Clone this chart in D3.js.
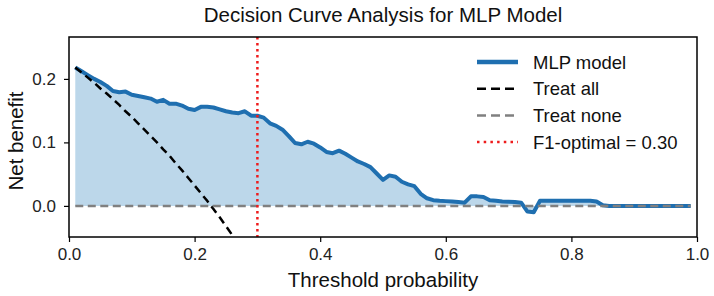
<!DOCTYPE html>
<html>
<head>
<meta charset="utf-8">
<script src="https://cdn.jsdelivr.net/npm/d3@7"></script>
<style>
  body { margin: 0; background: #fff; }
  svg { font-family: "Liberation Sans", Arial, sans-serif; }
  .tick text { font-size: 17px; fill: #222; }
</style>
</head>
<body>
<svg id="chart" width="714" height="296"></svg>
<script>
// thresholds 0.01 .. 0.99
const thresholds = d3.range(1, 100).map(i => i / 100);

// MLP model net benefit, one value per threshold
const mlpNetBenefit = [
  0.218, 0.212, 0.206, 0.200, 0.195, 0.189, 0.181, 0.179, 0.180, 0.175,
  0.173, 0.171, 0.169, 0.164, 0.167, 0.161, 0.161, 0.158, 0.153, 0.151,
  0.156, 0.156, 0.155, 0.152, 0.149, 0.147, 0.146, 0.149, 0.142, 0.142,
  0.139, 0.130, 0.126, 0.120, 0.110, 0.099, 0.097, 0.101, 0.098, 0.092,
  0.085, 0.083, 0.087, 0.082, 0.076, 0.070, 0.066, 0.061, 0.051, 0.041,
  0.048, 0.046, 0.038, 0.034, 0.031, 0.019, 0.012, 0.009, 0.008, 0.0075,
  0.007, 0.006, 0.005, 0.015, 0.015, 0.014, 0.009, 0.008, 0.007, 0.0065,
  0.006, 0.005, -0.009, -0.010, 0.008, 0.008, 0.008, 0.008, 0.008, 0.008,
  0.008, 0.008, 0.008, 0.007, 0.001, 0, 0, 0, 0, 0,
  0, 0, 0, 0, 0, 0, 0, 0, 0
];

// Treat all (leaves the plot below ~0.26)
const treatAllX = [0.01, 0.02, 0.03, 0.04, 0.05, 0.06, 0.07, 0.08, 0.09, 0.10,
  0.11, 0.12, 0.13, 0.14, 0.15, 0.16, 0.17, 0.18, 0.19, 0.20,
  0.21, 0.22, 0.23, 0.24, 0.25, 0.26, 0.27];
const treatAllY = [0.218, 0.210, 0.202, 0.194, 0.185, 0.177, 0.168, 0.159, 0.149, 0.140,
  0.130, 0.120, 0.110, 0.100, 0.089, 0.079, 0.067, 0.056, 0.044, 0.032,
  0.020, 0.008, -0.005, -0.018, -0.032, -0.046, -0.060];

const treatNoneX = [0.01, 0.99];
const treatNoneY = [0, 0];

const f1Optimal = 0.30;

const xTicks = [0, 0.2, 0.4, 0.6, 0.8, 1.0];
const yTicks = [0, 0.1, 0.2];

const legendLabels = ["MLP model", "Treat all", "Treat none", "F1-optimal = 0.30"];

const margin = {left: 69, right: 17, top: 37, bottom: 59};
const W = 714, H = 296;

const svg = d3.select("#chart");
const xScale = d3.scaleLinear().domain([0, 1]).range([margin.left, W - margin.right]);
const yScale = d3.scaleLinear().domain([-0.049, 0.266]).range([H - margin.bottom, margin.top]);

svg.append("clipPath").attr("id", "clip")
  .append("rect")
  .attr("x", margin.left).attr("y", margin.top)
  .attr("width", W - margin.left - margin.right)
  .attr("height", H - margin.top - margin.bottom);

const plot = svg.append("g").attr("clip-path", "url(#clip)");

const blue = "#1f6fb0";

// shaded area between model curve and zero
plot.append("path")
  .datum(thresholds)
  .attr("fill", "#bcd7ea")
  .attr("d", d3.area()
    .x(d => xScale(d))
    .y0(yScale(0))
    .y1((d, i) => yScale(mlpNetBenefit[i])));

plot.append("path")
  .datum(thresholds)
  .attr("fill", "none")
  .attr("stroke", blue)
  .attr("stroke-width", 4)
  .attr("stroke-linejoin", "round")
  .attr("d", d3.line().x(d => xScale(d)).y((d, i) => yScale(mlpNetBenefit[i])));

plot.append("path")
  .datum(treatAllX)
  .attr("fill", "none")
  .attr("stroke", "#000")
  .attr("stroke-width", 2.5)
  .attr("stroke-dasharray", "8,5")
  .attr("d", d3.line().x(d => xScale(d)).y((d, i) => yScale(treatAllY[i])));

plot.append("path")
  .datum(treatNoneX)
  .attr("fill", "none")
  .attr("stroke", "#808080")
  .attr("stroke-width", 2.5)
  .attr("stroke-dasharray", "8,4.5")
  .attr("d", d3.line().x(d => xScale(d)).y((d, i) => yScale(treatNoneY[i])));

plot.append("line")
  .attr("x1", xScale(f1Optimal)).attr("x2", xScale(f1Optimal))
  .attr("y1", margin.top).attr("y2", H - margin.bottom)
  .attr("stroke", "#ee1c1c")
  .attr("stroke-width", 2.5)
  .attr("stroke-dasharray", "2.5,3.5");

// axes
const xAxis = d3.axisBottom(xScale).tickValues(xTicks).tickFormat(d3.format(".1f")).tickSize(5).tickPadding(6);
const yAxis = d3.axisLeft(yScale).tickValues(yTicks).tickFormat(d3.format(".1f")).tickSize(5).tickPadding(8);

svg.append("g").attr("transform", `translate(0,${H - margin.bottom})`).call(xAxis)
  .call(g => g.select(".domain").remove());
svg.append("g").attr("transform", `translate(${margin.left},0)`).call(yAxis)
  .call(g => g.select(".domain").remove());
svg.selectAll(".tick line").attr("stroke", "#000").attr("stroke-width", 1.2);

// frame
svg.append("rect")
  .attr("x", margin.left).attr("y", margin.top)
  .attr("width", W - margin.left - margin.right)
  .attr("height", H - margin.top - margin.bottom)
  .attr("fill", "none").attr("stroke", "#000").attr("stroke-width", 1.5);

// labels
svg.append("text")
  .attr("x", (margin.left + W - margin.right) / 2).attr("y", 22)
  .attr("text-anchor", "middle").attr("font-size", 20.5).attr("fill", "#111")
  .text("Decision Curve Analysis for MLP Model");

svg.append("text")
  .attr("x", (margin.left + W - margin.right) / 2).attr("y", 287)
  .attr("text-anchor", "middle").attr("font-size", 20.5).attr("fill", "#111")
  .text("Threshold probability");

svg.append("text")
  .attr("transform", `translate(23,${(margin.top + H - margin.bottom) / 2 + 4}) rotate(-90)`)
  .attr("text-anchor", "middle").attr("font-size", 20.5).attr("fill", "#111")
  .text("Net benefit");

// legend
const legendStyles = [
  {stroke: blue, width: 4.5, dash: null},
  {stroke: "#000", width: 2.5, dash: "9,5"},
  {stroke: "#808080", width: 2.5, dash: "9,5"},
  {stroke: "#ee1c1c", width: 2.5, dash: "2.5,4.2"}
];
const legend = svg.append("g").attr("transform", "translate(477,62)");
legendLabels.forEach((label, i) => {
  const row = legend.append("g").attr("transform", `translate(0,${i * 26.7})`);
  row.append("line")
    .attr("x1", 0).attr("x2", 41).attr("y1", 0).attr("y2", 0)
    .attr("stroke", legendStyles[i].stroke)
    .attr("stroke-width", legendStyles[i].width)
    .attr("stroke-dasharray", legendStyles[i].dash);
  row.append("text")
    .attr("x", 56).attr("y", 6.5)
    .attr("font-size", 18.5).attr("fill", "#111")
    .text(label);
});
</script>
</body>
</html>
